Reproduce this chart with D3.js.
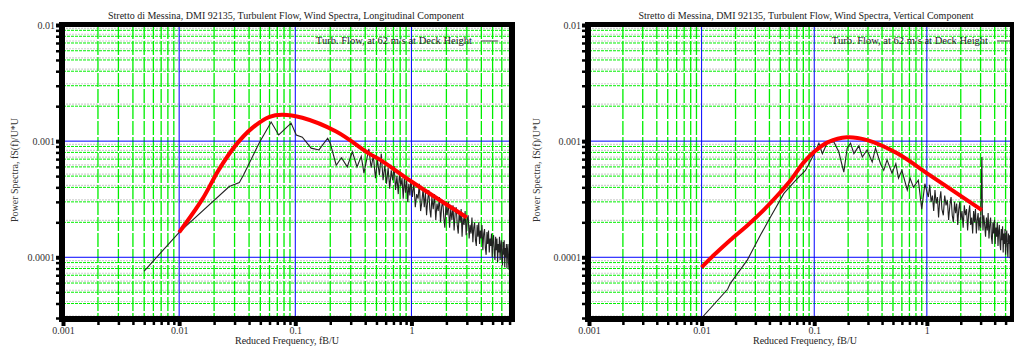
<!DOCTYPE html>
<html>
<head>
<meta charset="utf-8">
<script src="https://cdn.jsdelivr.net/npm/d3@7"></script>
<style>
  body { margin: 0; background: #fff; }
  svg { display: block; font-family: "Liberation Serif", "DejaVu Serif", serif; }
</style>
</head>
<body>
<svg id="chart" width="1014" height="347"></svg>
<script>
// axis ticks + labels
const freqTicks = [0.001, 0.01, 0.1, 1];
const freqLabels = ['0.001', '0.01', '0.1', '1'];
const specTicks = [0.0001, 0.001, 0.01];
const specLabels = ['0.0001', '0.001', '0.01'];

const xTitle = 'Reduced Frequency, fB/U';
const yTitle = 'Power Spectra, fS(f)/U*U';
const legendText = 'Turb. Flow, at 62 m/s at Deck Height';
const titles = [
  'Stretto di Messina, DMI 92135, Turbulent Flow, Wind Spectra, Longitudinal Component',
  'Stretto di Messina, DMI 92135, Turbulent Flow, Wind Spectra, Vertical Component'
];

// fitted spectrum (red) - longitudinal
const longFitFreq = [0.01, 0.0158, 0.022, 0.031, 0.0427, 0.06, 0.077, 0.115, 0.225, 0.434, 0.54, 1.0, 3.0];
const longFitSpec = [1.64e-4, 3.15e-4, 5.69e-4, 9.33e-4, 1.30e-3, 1.62e-3, 1.69e-3, 1.59e-3, 1.21e-3, 7.8e-4, 6.9e-4, 4.49e-4, 2.2e-4];

// fitted spectrum (red) - vertical
const vertFitFreq = [0.01, 0.0128, 0.018, 0.0256, 0.0355, 0.0502, 0.0617, 0.08, 0.1, 0.133, 0.195, 0.295, 0.54, 1.06, 3.08];
const vertFitSpec = [8.2e-5, 1.04e-4, 1.41e-4, 1.89e-4, 2.55e-4, 3.65e-4, 4.6e-4, 6.5e-4, 8.1e-4, 9.8e-4, 1.08e-3, 1.02e-3, 7.9e-4, 5.1e-4, 2.55e-4];

// measured spectrum - longitudinal [f, S]
const longMeasured = [
  [0.005, 7.6e-5], [0.01, 1.64e-4], [0.027, 4.07e-4], [0.033, 4.4e-4], [0.036, 5.15e-4],
  [0.049, 9.7e-4], [0.062, 1.46e-3], [0.072, 1.13e-3], [0.092, 1.43e-3], [0.102, 1.13e-3],
  [0.115, 1.08e-3], [0.137, 8.7e-4], [0.16, 8.4e-4], [0.19, 1.06e-3], [0.2, 9.6e-4],
  [0.225, 6.2e-4], [0.25, 7.2e-4], [0.28, 6.0e-4], [0.31, 8.1e-4], [0.34, 6.0e-4],
  [0.37, 7.4e-4], [0.39, 5.3e-4],
  [0.41, 6.8e-4], [0.43, 8.6e-4], [0.45, 5.9e-4], [0.47, 7.5e-4], [0.49, 4.8e-4],
  [0.51, 6.9e-4], [0.53, 5.1e-4], [0.55, 7.8e-4], [0.57, 4.6e-4], [0.59, 6.2e-4],
  [0.61, 4.3e-4], [0.63, 5.9e-4], [0.65, 3.9e-4], [0.67, 5.6e-4], [0.69, 4.6e-4],
  [0.71, 6.1e-4], [0.73, 3.8e-4], [0.75, 5.0e-4], [0.77, 3.5e-4], [0.79, 5.4e-4],
  [0.81, 4.1e-4], [0.83, 4.8e-4], [0.85, 3.2e-4], [0.87, 4.9e-4], [0.89, 3.6e-4],
  [0.91, 4.6e-4], [0.93, 3.0e-4], [0.95, 4.3e-4], [0.97, 3.4e-4], [0.99, 4.7e-4],
  [1.02, 3.3e-4], [1.05, 4.4e-4], [1.08, 2.7e-4], [1.11, 3.5e-4], [1.14, 3.2e-4],
  [1.17, 4.3e-4], [1.2, 2.5e-4], [1.23, 3.0e-4], [1.26, 3.9e-4], [1.29, 2.7e-4],
  [1.32, 3.6e-4], [1.35, 2.3e-4], [1.38, 3.1e-4], [1.41, 3.8e-4], [1.44, 2.6e-4],
  [1.47, 2.2e-4], [1.5, 3.3e-4], [1.54, 2.6e-4], [1.58, 3.5e-4], [1.62, 2.1e-4],
  [1.66, 2.9e-4], [1.70, 2.5e-4], [1.74, 3.3e-4], [1.78, 2.0e-4], [1.82, 2.7e-4],
  [1.86, 3.1e-4], [1.9, 2.2e-4], [1.94, 1.8e-4], [1.98, 2.8e-4], [2.03, 2.3e-4],
  [2.08, 3.0e-4], [2.13, 1.8e-4], [2.18, 2.6e-4], [2.23, 2.1e-4], [2.28, 2.8e-4],
  [2.33, 1.7e-4], [2.38, 2.4e-4], [2.43, 2.7e-4], [2.48, 1.9e-4], [2.53, 1.6e-4],
  [2.58, 2.5e-4], [2.63, 2.0e-4], [2.68, 2.6e-4], [2.73, 1.5e-4], [2.78, 2.2e-4],
  [2.84, 1.9e-4], [2.9, 2.5e-4], [2.96, 1.55e-4], [3.02, 2.1e-4], [3.08, 2.3e-4],
  [3.14, 1.45e-4], [3.2, 1.9e-4], [3.26, 1.6e-4], [3.32, 2.2e-4], [3.38, 1.35e-4],
  [3.44, 1.8e-4], [3.5, 2.0e-4], [3.56, 1.4e-4], [3.62, 1.25e-4], [3.68, 1.9e-4],
  [3.74, 1.5e-4], [3.8, 2.0e-4], [3.86, 1.3e-4], [3.92, 1.7e-4], [3.98, 1.45e-4],
  [4.05, 1.9e-4], [4.12, 1.15e-4], [4.19, 1.6e-4], [4.26, 1.75e-4], [4.33, 1.2e-4],
  [4.4, 1.05e-4], [4.47, 1.65e-4], [4.54, 1.3e-4], [4.61, 1.7e-4], [4.68, 1.1e-4],
  [4.75, 1.45e-4], [4.82, 1.25e-4], [4.89, 1.6e-4], [4.96, 1.0e-4], [5.03, 1.4e-4],
  [5.1, 1.55e-4], [5.17, 1.1e-4], [5.24, 9.5e-5], [5.31, 1.5e-4], [5.38, 1.15e-4],
  [5.45, 1.45e-4], [5.52, 9.0e-5], [5.59, 1.3e-4], [5.66, 1.1e-4], [5.73, 1.5e-4],
  [5.8, 9.5e-5], [5.87, 1.25e-4], [5.94, 1.4e-4], [6.01, 1.0e-4], [6.08, 8.5e-5],
  [6.15, 1.35e-4], [6.22, 1.05e-4], [6.29, 1.4e-4], [6.36, 8.2e-5], [6.43, 1.2e-4],
  [6.5, 1.0e-4], [6.57, 1.3e-4], [6.64, 8.0e-5], [6.71, 1.15e-4], [6.78, 1.3e-4],
  [6.85, 9.0e-5], [6.92, 7.8e-5], [6.99, 1.2e-4], [7.06, 9.5e-5], [7.13, 1.25e-4]
];

// measured spectrum - vertical [f, S]
const vertMeasured = [
  [0.01, 3.0e-5], [0.017, 5.3e-5], [0.018, 5.96e-5], [0.0255, 9.5e-5], [0.0334, 1.56e-4],
  [0.041, 2.23e-4], [0.0538, 3.55e-4], [0.0683, 4.6e-4], [0.0835, 5.6e-4], [0.1, 7.8e-4],
  [0.11, 9.6e-4], [0.118, 7.8e-4], [0.13, 9.6e-4], [0.149, 9.9e-4], [0.165, 8.1e-4],
  [0.183, 5.4e-4], [0.196, 8.7e-4], [0.21, 9.6e-4], [0.225, 7.8e-4], [0.249, 9.1e-4],
  [0.267, 7.3e-4], [0.295, 8.4e-4], [0.327, 6.6e-4], [0.35, 8.7e-4], [0.387, 6.4e-4],
  [0.414, 5.6e-4], [0.443, 6.9e-4], [0.49, 5.3e-4], [0.53, 6.4e-4], [0.56, 4.8e-4],
  [0.6, 5.6e-4], [0.67, 3.8e-4], [0.71, 4.8e-4], [0.76, 4.0e-4], [0.84, 4.6e-4],
  [0.9, 2.6e-4], [0.96, 4.3e-4], [1.03, 3.3e-4],
  [1.06, 4.2e-4], [1.09, 3.0e-4], [1.12, 3.4e-4], [1.15, 2.5e-4], [1.18, 3.8e-4],
  [1.21, 2.9e-4], [1.24, 3.3e-4], [1.27, 2.2e-4], [1.30, 3.1e-4], [1.33, 3.7e-4],
  [1.36, 2.6e-4], [1.40, 2.3e-4], [1.44, 3.4e-4], [1.48, 2.8e-4], [1.52, 3.1e-4],
  [1.56, 2.1e-4], [1.60, 2.8e-4], [1.64, 3.3e-4], [1.68, 2.3e-4], [1.72, 2.0e-4],
  [1.76, 3.0e-4], [1.80, 2.4e-4], [1.84, 2.9e-4], [1.88, 1.9e-4], [1.92, 2.6e-4],
  [1.96, 3.0e-4], [2.00, 2.1e-4], [2.05, 2.5e-4], [2.10, 1.8e-4], [2.15, 2.8e-4],
  [2.20, 2.3e-4], [2.25, 2.6e-4], [2.30, 1.7e-4], [2.35, 2.4e-4], [2.40, 2.8e-4],
  [2.45, 1.9e-4], [2.50, 2.2e-4], [2.55, 1.6e-4], [2.60, 2.5e-4], [2.65, 2.0e-4],
  [2.70, 2.6e-4], [2.75, 1.6e-4], [2.80, 2.1e-4], [2.85, 2.4e-4], [2.90, 1.7e-4],
  [2.95, 2.2e-4], [3.00, 1.8e-4], [3.05, 4.5e-4], [3.08, 7.3e-4], [3.11, 2.4e-4],
  [3.15, 1.7e-4], [3.20, 2.3e-4], [3.26, 1.9e-4], [3.32, 1.5e-4], [3.38, 2.2e-4],
  [3.44, 1.7e-4], [3.50, 2.4e-4], [3.56, 1.45e-4], [3.62, 1.9e-4], [3.68, 2.2e-4],
  [3.74, 1.5e-4], [3.80, 1.3e-4], [3.86, 2.0e-4], [3.92, 1.6e-4], [3.98, 2.1e-4],
  [4.04, 1.3e-4], [4.10, 1.8e-4], [4.16, 1.5e-4], [4.22, 2.0e-4], [4.28, 1.25e-4],
  [4.34, 1.7e-4], [4.40, 1.9e-4], [4.46, 1.3e-4], [4.52, 1.15e-4], [4.58, 1.75e-4],
  [4.64, 1.4e-4], [4.70, 1.85e-4], [4.76, 1.1e-4], [4.82, 1.6e-4], [4.88, 1.3e-4],
  [4.94, 1.75e-4], [5.00, 1.05e-4], [5.06, 1.5e-4], [5.12, 1.7e-4], [5.18, 1.2e-4],
  [5.24, 1.0e-4], [5.30, 1.6e-4], [5.36, 1.3e-4], [5.42, 1.55e-4], [5.48, 9.8e-5],
  [5.54, 1.4e-4], [5.60, 1.6e-4], [5.66, 1.1e-4], [5.72, 1.45e-4]
];

const svg = d3.select('#chart');

function drawPanel(p) {
  const x = d3.scaleLog().domain([0.001, p.fMax]).range([p.left, p.right]);
  const y = d3.scaleLog().domain([3e-5, 0.01]).range([318, 25]);
  const g = svg.append('g');

  const clipId = 'clip' + p.id;
  g.append('clipPath').attr('id', clipId).append('rect')
    .attr('x', p.left).attr('y', 25).attr('width', p.right - p.left).attr('height', 293);

  const isDecade = v => Math.abs(Math.log10(v) - Math.round(Math.log10(v))) < 1e-6;
  const xMinor = x.ticks().filter(v => !isDecade(v));
  const yMinor = y.ticks().filter(v => !isDecade(v));

  const grid = g.append('g').attr('clip-path', 'url(#' + clipId + ')');

  // horizontal grid: grey band + green dotted
  grid.selectAll('.hg').data(yMinor).enter().append('line')
    .attr('x1', p.left).attr('x2', p.right)
    .attr('y1', d => y(d) - 2).attr('y2', d => y(d) - 2)
    .attr('stroke', '#cfcfcf').attr('stroke-width', 1.2).attr('stroke-dasharray', '2,1');
  grid.selectAll('.hgg').data(yMinor).enter().append('line')
    .attr('x1', p.left).attr('x2', p.right)
    .attr('y1', d => y(d)).attr('y2', d => y(d))
    .attr('stroke', '#00ee00').attr('stroke-width', 1).attr('stroke-dasharray', '3,1');

  // vertical grid
  grid.selectAll('.vg').data(xMinor).enter().append('line')
    .attr('x1', d => x(d)).attr('x2', d => x(d))
    .attr('y1', 25).attr('y2', 318)
    .attr('stroke', '#00ee00').attr('stroke-width', 1.3).attr('stroke-dasharray', '14,2');

  // decade lines in blue
  grid.selectAll('.vb').data(freqTicks.slice(1)).enter().append('line')
    .attr('x1', d => x(d)).attr('x2', d => x(d))
    .attr('y1', 25).attr('y2', 318)
    .attr('stroke', '#0000ff').attr('stroke-width', 1);
  grid.selectAll('.hb').data(specTicks.slice(0, 2)).enter().append('line')
    .attr('x1', p.left).attr('x2', p.right)
    .attr('y1', d => y(d)).attr('y2', d => y(d))
    .attr('stroke', '#0000ff').attr('stroke-width', 1);

  // measured
  const lineM = d3.line().x(d => x(d[0])).y(d => y(d[1]));
  grid.append('path').datum(p.measured)
    .attr('d', lineM).attr('fill', 'none')
    .attr('stroke', '#222').attr('stroke-width', 1.1);

  // fit
  const fit = p.fitF.map((f, i) => [f, p.fitS[i]]);
  const lineF = d3.line().x(d => x(d[0])).y(d => y(d[1])).curve(d3.curveCatmullRom);
  grid.append('path').datum(fit)
    .attr('d', lineF).attr('fill', 'none')
    .attr('stroke', '#ff0000').attr('stroke-width', 4);

  // legend
  g.append('text').attr('x', p.legendX).attr('y', 44)
    .attr('text-anchor', 'end').attr('font-size', 10.5).attr('fill', '#222')
    .text(legendText);
  g.append('line').attr('x1', p.legendX + 9).attr('x2', p.legendX + 26)
    .attr('y1', 41).attr('y2', 41).attr('stroke', '#444').attr('stroke-width', 1)
    .attr('clip-path', 'url(#' + clipId + ')');

  // thick frame, drawn as filled bars
  const bars = [
    [p.left - 4, 22, p.right - p.left + 8, 5],
    [p.left - 4, 316, p.right - p.left + 8, 6],
    [p.left - 4, 22, 6, 300],
    [p.right - 2, 22, 6, 300]
  ];
  g.selectAll('.frame').data(bars).enter().append('rect')
    .attr('x', d => d[0]).attr('y', d => d[1])
    .attr('width', d => d[2]).attr('height', d => d[3])
    .attr('fill', '#000');

  // axes
  const yMinorAxis = g.append('g').attr('transform', 'translate(' + (p.left - 4) + ',0)')
    .call(d3.axisLeft(y).tickValues(yMinor).tickSize(3).tickFormat(''));
  const yAxis = g.append('g').attr('transform', 'translate(' + (p.left - 4) + ',0)')
    .call(d3.axisLeft(y).tickValues(specTicks).tickSize(3).tickPadding(1)
      .tickFormat((d, i) => specLabels[i]));
  const xMinorAxis = g.append('g').attr('transform', 'translate(0,322)')
    .call(d3.axisBottom(x).tickValues(xMinor).tickSize(3).tickFormat(''));
  const xAxis = g.append('g').attr('transform', 'translate(0,322)')
    .call(d3.axisBottom(x).tickValues(freqTicks).tickSize(4).tickPadding(1)
      .tickFormat((d, i) => freqLabels[i]));

  [yMinorAxis, yAxis, xMinorAxis, xAxis].forEach(a => {
    a.select('.domain').remove();
    a.selectAll('.tick line').attr('stroke', '#000').attr('stroke-width', 2.5);
    a.selectAll('text').attr('font-family', '"Liberation Serif", serif')
      .attr('font-size', 10).attr('fill', '#333');
  });
  yAxis.selectAll('.tick line').attr('stroke-width', 4);
  xAxis.selectAll('.tick line').attr('stroke-width', 4);

  // titles
  g.append('text').attr('x', p.titleX).attr('y', 19)
    .attr('text-anchor', 'middle').attr('font-size', 10).attr('fill', '#222')
    .text(p.title);
  g.append('text').attr('x', (p.left + p.xTitleShift)).attr('y', 344)
    .attr('text-anchor', 'middle').attr('font-size', 10).attr('fill', '#222')
    .text(xTitle);
  g.append('text')
    .attr('transform', 'translate(' + p.yTitleX + ',170) rotate(-90)')
    .attr('text-anchor', 'middle').attr('font-size', 10).attr('fill', '#333')
    .text(yTitle);
}

drawPanel({
  id: 'L', left: 63, right: 511, fMax: 7.2, title: titles[0], titleX: 286,
  xTitleShift: 224, yTitleX: 18, legendX: 472,
  fitF: longFitFreq, fitS: longFitSpec, measured: longMeasured
});
drawPanel({
  id: 'R', left: 589, right: 1012, fMax: 5.7, title: titles[1], titleX: 806,
  xTitleShift: 216, yTitleX: 540, legendX: 988,
  fitF: vertFitFreq, fitS: vertFitSpec, measured: vertMeasured
});
</script>
</body>
</html>
